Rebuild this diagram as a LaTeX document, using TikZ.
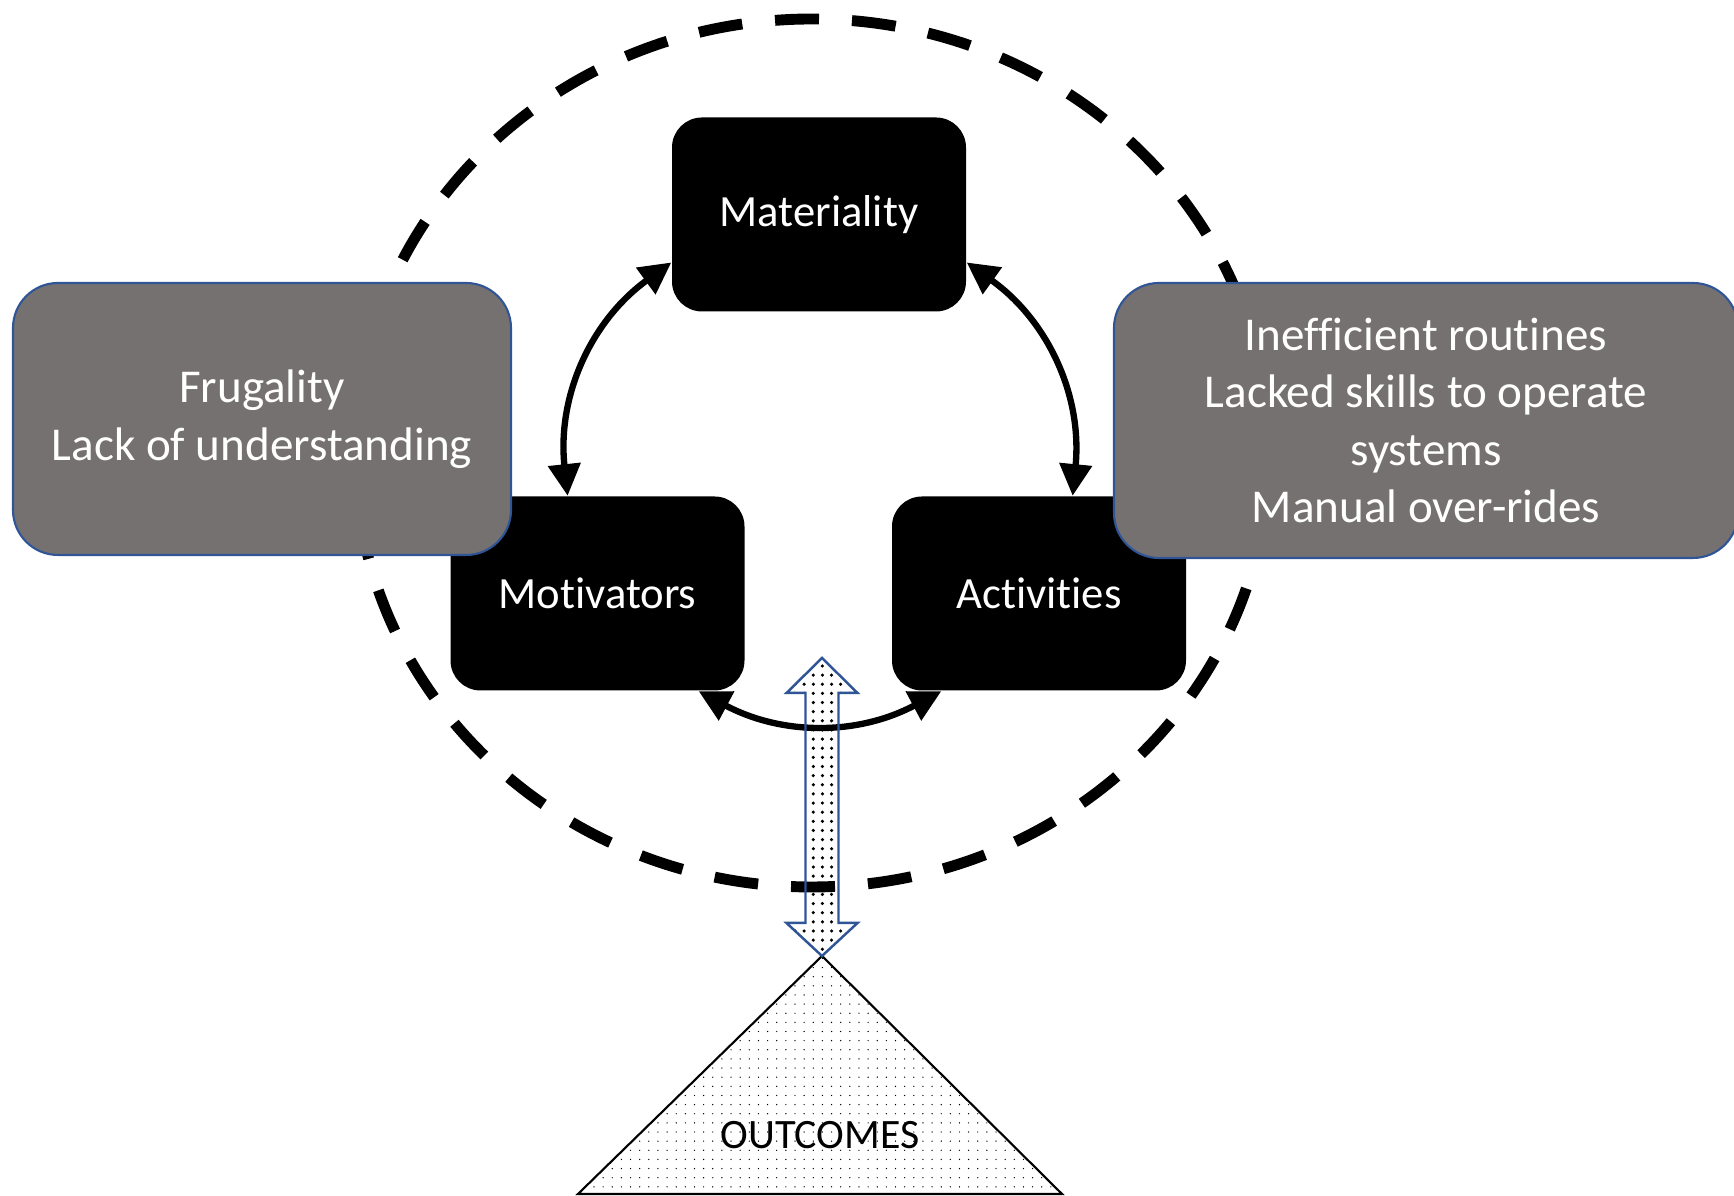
\documentclass[tikz,border=0pt]{standalone}
\usepackage{fontspec}
\setmainfont{Carlito}[Ligatures=NoCommon]
\usepackage{tikz}
\usetikzlibrary{calc,arrows.meta,patterns.meta}
\definecolor{boxgrey}{HTML}{767171}
\definecolor{edge}{HTML}{2F5597}
\tikzset{
  core/.style={fill=black, text=white, rounded corners=3mm, minimum width=2.94cm, minimum height=1.94cm, font=\fontsize{12.7}{15.5}\selectfont},
  issue/.style={fill=boxgrey, draw=edge, line width=0.6pt, rounded corners=4.5mm, text=white, align=center, font=\fontsize{13.4}{16.4}\selectfont},
  ring/.style={draw=black, line width=3.1pt, dash pattern=on 0.44cm off 0.33cm},
  loopline/.style={draw=black, line width=1.8pt, >={Triangle[length=9pt,width=9pt]}, <->},
  blockarrow/.style={draw=edge, line width=0.7pt, pattern={Dots[distance=2.6pt,radius=0.5pt]}},
  pyramid/.style={draw=black, line width=0.6pt, pattern={Dots[distance=2.6pt,radius=0.2pt]}},
  lab/.style={text=black, font=\fontsize{11.9}{14}\selectfont},
}

\begin{document}
\begin{tikzpicture}
  \useasboundingbox (0,0) rectangle (17.34,11.96);

  % dashed boundary
  \draw[ring] (8.12,7.43) ellipse [x radius=4.57, y radius=4.34];

  \node[core] (mat) at (8.19,9.815) {Materiality};
  \node[core] (mot) at (5.975,6.025) {Motivators};
  \node[core] (act) at (10.39,6.025) {Activities};

  \draw[loopline] (mat.198) to[bend right=30] (mot.107);
  \draw[loopline] (mat.342) to[bend left=30] (act.71);
  \draw[loopline] (mot.316) to[bend right=28] (act.225);

  \node[issue, minimum width=4.98cm, minimum height=2.72cm] (frug) at (2.62,7.77)
    {Frugality\\Lack of understanding};
  \node[issue, minimum width=6.24cm, minimum height=2.75cm] (ineff) at (14.26,7.755)
    {Inefficient routines\\Lacked skills to operate\\systems\\Manual over-rides};

  % outcomes
  \coordinate (apex) at (8.22,2.40);
  \draw[pyramid] (apex) -- (5.78,0.02) -- (10.62,0.02) -- cycle;
  \node[lab] (out) at (8.20,0.61) {OUTCOMES};

  \draw[blockarrow] (apex) -- ++(0.355,0.33) -- ++(-0.19,0) -- ++(0,2.30) -- ++(0.19,0)
    -- ++(-0.355,0.35) -- ++(-0.355,-0.35) -- ++(0.19,0) -- ++(0,-2.30) -- ++(-0.19,0) -- cycle;
\end{tikzpicture}
\end{document}
